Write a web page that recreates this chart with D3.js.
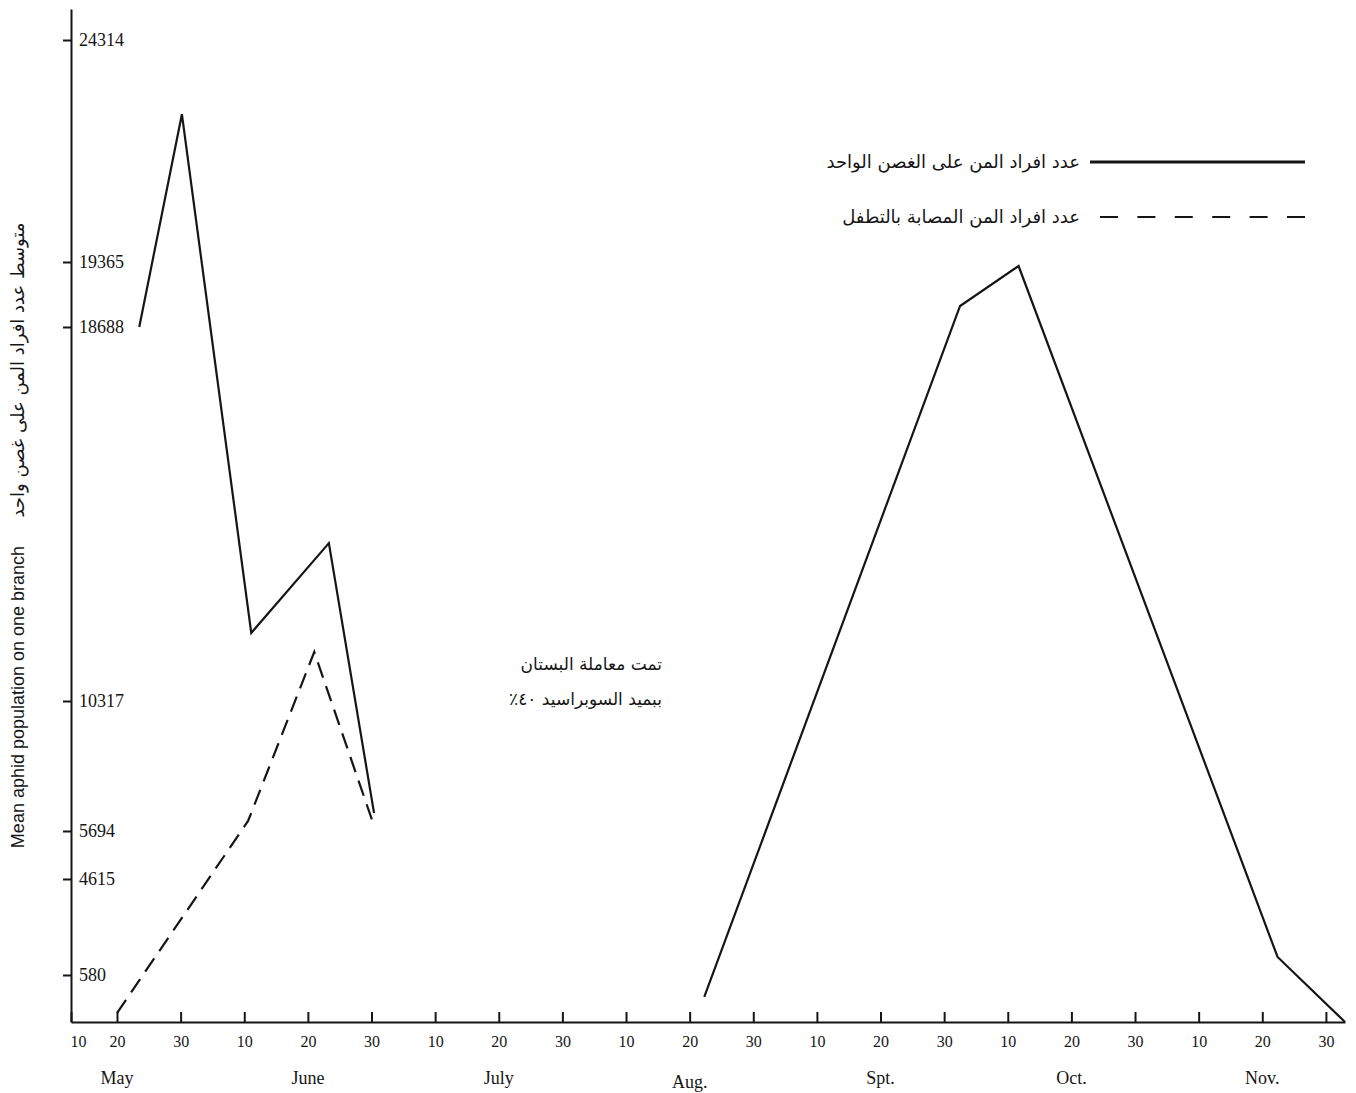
<!DOCTYPE html>
<html><head><meta charset="utf-8">
<script src="https://cdn.jsdelivr.net/npm/d3@7"></script>
<style>body{margin:0;background:#fff}</style>
</head><body>
<svg id="chart" width="1356" height="1093"></svg>
<script>
// ---- data ----
// y axis: hand-drawn, non-uniform tick positions
const yTickValues = [580, 4615, 5694, 10317, 18688, 19365, 24314];
// x: days counted from May 10, ticks every 10 days
const xTickDays = d3.range(0, 201, 10);
const xTickLabels = ["10","20","30","10","20","30","10","20","30","10","20","30","10","20","30","10","20","30","10","20","30"];
const monthNames = ["May","June","July","Aug.","Spt.","Oct.","Nov."];
const monthDays = [10, 40, 70, 100, 130, 160, 190];

// total aphids per branch, spring
const springDays  = [13.5, 20.2, 31.1, 43.3, 50.4];
const springTotal = [18688, 22660, 11840, 13850, 6330];
// parasitized aphids
const parasDays   = [10, 30.6, 41.0, 50.3];
const parasValues = [111, 6050, 11414, 5943];
// total aphids per branch, autumn
const autumnDays  = [102.3, 142.5, 151.7, 192.4, 203];
const autumnTotal = [309, 18907, 19323, 1337, 0];

const legendLabels = ["عدد افراد المن على الغصن الواحد", "عدد افراد المن المصابة بالتطفل"];
const noteLines = ["تمت معاملة البستان", "ببميد السوبراسيد ٤٠٪"];
const yTitleEn = "Mean aphid population on one branch";
const yTitleAr = "متوسط عدد افراد المن على غصن واحد";

// ---- scales ----
const svg = d3.select("#chart");
const ink = "#151515";
const x = d3.scaleLinear().domain([0, 10, 203]).range([71, 117, 1345]);
const y = d3.scaleLinear()
  .domain([0, 580, 4615, 5694, 10317, 18688, 19365, 24314, 25000])
  .range([1022, 975, 879, 831, 701, 327, 262, 40, 9]);

// ---- axes ----
const yAxis = svg.append("g").attr("transform", `translate(${x(0)},0)`)
  .call(d3.axisLeft(y).tickValues(yTickValues).tickSizeInner(8).tickSizeOuter(0).tickFormat(d => d));
yAxis.select(".domain").attr("stroke", ink).attr("stroke-width", 2);
yAxis.selectAll(".tick line").attr("stroke", ink).attr("stroke-width", 2);
yAxis.selectAll(".tick text").attr("x", 8).attr("text-anchor", "start")
  .attr("font-family", "Liberation Serif, serif").attr("font-size", 18).attr("fill", ink);

const xAxis = svg.append("g").attr("transform", `translate(0,${y(0)})`)
  .call(d3.axisBottom(x).tickValues(xTickDays).tickSizeInner(-10).tickSizeOuter(0).tickPadding(14)
    .tickFormat((d, i) => xTickLabels[i]));
xAxis.select(".domain").attr("stroke", ink).attr("stroke-width", 2);
xAxis.selectAll(".tick line").attr("stroke", ink).attr("stroke-width", 2);
xAxis.selectAll(".tick text").attr("font-family", "Liberation Serif, serif").attr("font-size", 16).attr("fill", ink)
  .attr("dx", (d, i) => i === 0 ? 7 : 0);

svg.append("g").selectAll("text").data(monthNames).join("text")
  .attr("x", (d, i) => x(monthDays[i]))
  .attr("y", (d, i) => d === "Aug." ? 1088 : 1084)
  .attr("text-anchor", "middle")
  .attr("font-family", "Liberation Serif, serif").attr("font-size", 18).attr("fill", ink)
  .text(d => d);

// ---- lines ----
const line = d3.line().x(d => x(d[0])).y(d => y(d[1]));
svg.append("path").datum(d3.zip(springDays, springTotal))
  .attr("d", line).attr("fill", "none").attr("stroke", ink).attr("stroke-width", 2.2);
svg.append("path").datum(d3.zip(parasDays, parasValues))
  .attr("d", line).attr("fill", "none").attr("stroke", ink).attr("stroke-width", 2.2)
  .attr("stroke-dasharray", "16,9");
svg.append("path").datum(d3.zip(autumnDays, autumnTotal))
  .attr("d", line).attr("fill", "none").attr("stroke", ink).attr("stroke-width", 2.2);

// ---- legend ----
svg.append("line").attr("x1", 1090).attr("x2", 1305).attr("y1", 162).attr("y2", 162)
  .attr("stroke", ink).attr("stroke-width", 3);
svg.append("line").attr("x1", 1100).attr("x2", 1305).attr("y1", 217).attr("y2", 217)
  .attr("stroke", ink).attr("stroke-width", 2.2).attr("stroke-dasharray", "18,19.4");
svg.append("g").selectAll("text").data(legendLabels).join("text")
  .attr("x", 1080).attr("y", (d, i) => 168 + i * 55)
  .attr("direction", "rtl").attr("text-anchor", "start")
  .attr("font-family", "DejaVu Sans, sans-serif").attr("font-size", 18).attr("fill", ink)
  .text(d => d);

// ---- note ----
svg.append("g").selectAll("text").data(noteLines).join("text")
  .attr("x", 662).attr("y", (d, i) => 670 + i * 35)
  .attr("direction", "rtl").attr("text-anchor", "start")
  .attr("font-family", "DejaVu Sans, sans-serif").attr("font-size", 17).attr("fill", ink)
  .text(d => d);

// ---- y titles ----
svg.append("text").attr("transform", "translate(24,697) rotate(-90)")
  .attr("text-anchor", "middle").attr("font-family", "Liberation Sans, Arial, sans-serif")
  .attr("font-size", 18).attr("fill", ink).text(yTitleEn);
svg.append("text").attr("transform", "translate(24,370) rotate(-90)")
  .attr("direction", "rtl").attr("text-anchor", "middle").attr("font-family", "DejaVu Sans, sans-serif")
  .attr("font-size", 18).attr("fill", ink).text(yTitleAr);
</script>
</body></html>
